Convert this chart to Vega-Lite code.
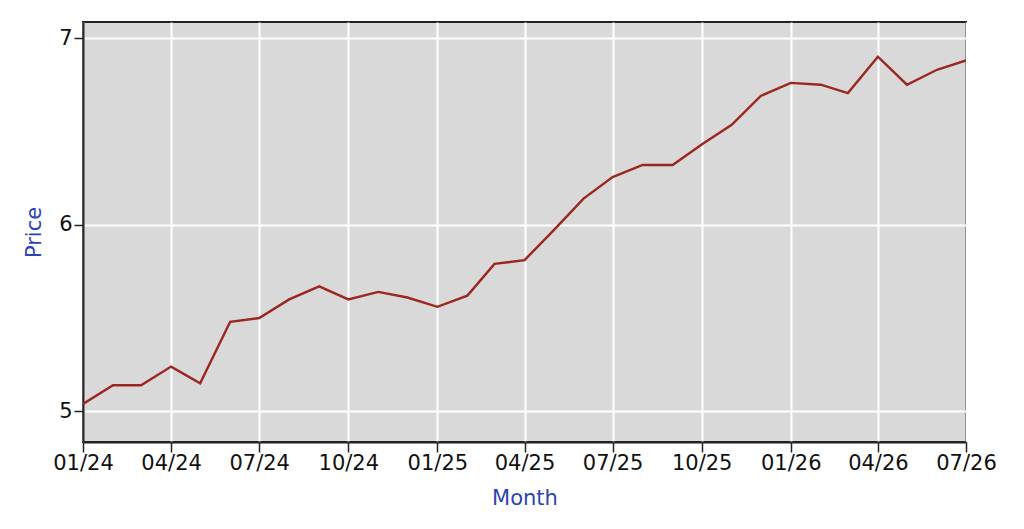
{
  "$schema": "https://vega.github.io/schema/vega-lite/v6.json",
  "width": 883,
  "height": 420,
  "autosize": {"type": "none"},
  "padding": {"left": 83, "top": 22, "right": 58, "bottom": 87},
  "background": "white",
  "config": {
    "font": "DejaVu Sans",
    "view": {"fill": "#d9d9d9", "stroke": "#222222", "strokeWidth": 2},
    "axis": {
      "domain": true,
      "domainColor": "#222222",
      "domainWidth": 2,
      "grid": true,
      "gridColor": "#ffffff",
      "gridWidth": 2,
      "gridOpacity": 1,
      "tickColor": "#222222",
      "tickWidth": 1.5,
      "labelColor": "#111111",
      "labelFont": "DejaVu Sans",
      "labelFontSize": 21,
      "titleFont": "DejaVu Sans",
      "titleFontSize": 21,
      "titleFontWeight": "normal",
      "titleColor": "#2a45b0"
    }
  },
  "data": {
    "values": [
      {"month": "2024-01-01T00:00:00", "price": 5.04},
      {"month": "2024-02-01T00:00:00", "price": 5.14},
      {"month": "2024-03-01T00:00:00", "price": 5.14},
      {"month": "2024-04-01T00:00:00", "price": 5.24},
      {"month": "2024-05-01T00:00:00", "price": 5.15},
      {"month": "2024-06-01T00:00:00", "price": 5.48},
      {"month": "2024-07-01T00:00:00", "price": 5.50},
      {"month": "2024-08-01T00:00:00", "price": 5.60},
      {"month": "2024-09-01T00:00:00", "price": 5.67},
      {"month": "2024-10-01T00:00:00", "price": 5.60},
      {"month": "2024-11-01T00:00:00", "price": 5.64},
      {"month": "2024-12-01T00:00:00", "price": 5.61},
      {"month": "2025-01-01T00:00:00", "price": 5.56},
      {"month": "2025-02-01T00:00:00", "price": 5.62},
      {"month": "2025-03-01T00:00:00", "price": 5.79},
      {"month": "2025-04-01T00:00:00", "price": 5.81},
      {"month": "2025-05-01T00:00:00", "price": 5.97},
      {"month": "2025-06-01T00:00:00", "price": 6.14},
      {"month": "2025-07-01T00:00:00", "price": 6.255},
      {"month": "2025-08-01T00:00:00", "price": 6.32},
      {"month": "2025-09-01T00:00:00", "price": 6.32},
      {"month": "2025-10-01T00:00:00", "price": 6.43},
      {"month": "2025-11-01T00:00:00", "price": 6.535},
      {"month": "2025-12-01T00:00:00", "price": 6.69},
      {"month": "2026-01-01T00:00:00", "price": 6.76},
      {"month": "2026-02-01T00:00:00", "price": 6.75},
      {"month": "2026-03-01T00:00:00", "price": 6.705},
      {"month": "2026-04-01T00:00:00", "price": 6.90},
      {"month": "2026-05-01T00:00:00", "price": 6.75},
      {"month": "2026-06-01T00:00:00", "price": 6.83},
      {"month": "2026-07-01T00:00:00", "price": 6.88}
    ]
  },
  "mark": {"type": "line", "color": "#9c2620", "strokeWidth": 2.4, "clip": true},
  "encoding": {
    "x": {
      "field": "month",
      "type": "temporal",
      "title": "Month",
      "scale": {
        "domain": [
          {"year": 2024, "month": 1, "date": 1},
          {"year": 2026, "month": 7, "date": 1}
        ],
        "nice": false
      },
      "axis": {
        "format": "%m/%y",
        "tickCount": {"interval": "month", "step": 3},
        "tickSize": 10,
        "labelPadding": 0,
        "labelFlush": false,
        "labelOverlap": false,
        "titlePadding": 14
      }
    },
    "y": {
      "field": "price",
      "type": "quantitative",
      "title": "Price",
      "scale": {"domain": [4.836, 7.086], "nice": false, "zero": false},
      "axis": {
        "values": [5, 6, 7],
        "tickSize": 9,
        "labelPadding": 2,
        "titlePadding": 14
      }
    }
  }
}
